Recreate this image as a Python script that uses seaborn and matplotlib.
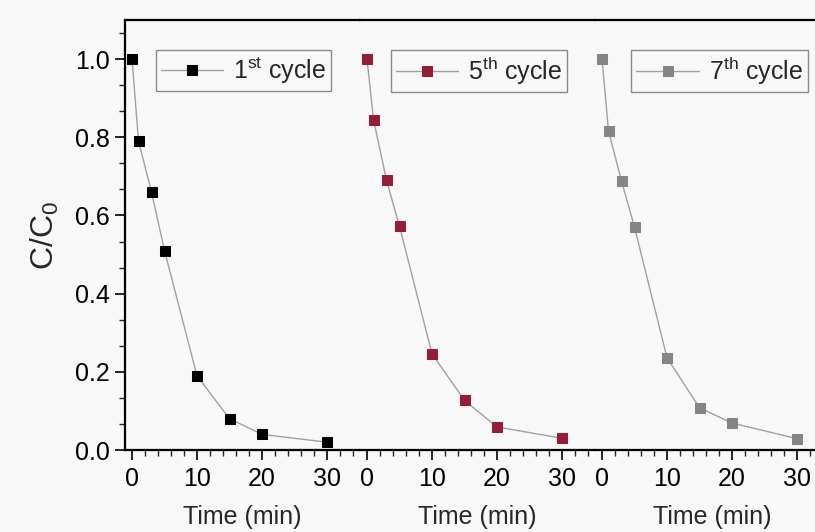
import seaborn as sns
import matplotlib
matplotlib.use("Agg")
import matplotlib.pyplot as plt
from matplotlib.ticker import AutoMinorLocator, MultipleLocator

# данные
time_min = [0, 1, 3, 5, 10, 15, 20, 30]
cycle_1 = [1.0, 0.79, 0.66, 0.51, 0.19, 0.08, 0.04, 0.02]
cycle_5 = [1.0, 0.845, 0.69, 0.572, 0.246, 0.127, 0.059, 0.03]
cycle_7 = [1.0, 0.816, 0.688, 0.57, 0.236, 0.108, 0.069, 0.029]
labels = ["1$^{\\mathregular{st}}$ cycle", "5$^{\\mathregular{th}}$ cycle",
          "7$^{\\mathregular{th}}$ cycle"]
colors = ["#000000", "#951d36", "#858585"]

sns.set_theme(style="ticks")
plt.rcParams['font.family'] = ['Liberation Sans', 'DejaVu Sans']
plt.rcParams['mathtext.fontset'] = 'custom'
plt.rcParams['mathtext.rm'] = 'Liberation Sans'
plt.rcParams['mathtext.it'] = 'Liberation Sans'
plt.rcParams['mathtext.bf'] = 'Liberation Sans:bold'

bg = "#f8f8f8"
fig = plt.figure(figsize=(8.15, 5.32), dpi=100, facecolor=bg)

W, H = 815, 532
left0, panel_w = 125, 235
top, bottom = 20, 450
fs = 18

series = [cycle_1, cycle_5, cycle_7]
leg_x = [0.13, 0.13, 0.155]
for i, vals in enumerate(series):
    ax = fig.add_axes([(left0 + i * panel_w) / W, 1 - bottom / H,
                       panel_w / W, (bottom - top) / H])
    ax.set_facecolor(bg)
    sns.lineplot(x=time_min, y=vals, ax=ax, color="#a0a0a0", lw=1,
                 marker="s", markersize=7.5, markerfacecolor=colors[i],
                 markeredgecolor=colors[i], label=labels[i])
    ax.set_xlim(-1.08, 35.08)
    ax.set_ylim(0, 1.1)
    ax.xaxis.set_minor_locator(MultipleLocator(2))
    ax.set_xticks([0, 10, 20, 30])
    ax.tick_params(axis='x', which='major', length=7, width=1.2, labelsize=fs,
                   pad=5, colors='black')
    ax.tick_params(axis='x', which='minor', length=4, width=1)
    for s in ['top', 'bottom', 'left', 'right']:
        ax.spines[s].set_linewidth(1.6)
        ax.spines[s].set_color('black')
    ax.spines['right'].set_visible(i == 2)
    if i == 0:
        ax.yaxis.set_major_locator(MultipleLocator(0.2))
        ax.yaxis.set_minor_locator(AutoMinorLocator(3))
        ax.tick_params(axis='y', which='major', length=7, width=1.2,
                       labelsize=fs, pad=4, colors='black')
        ax.tick_params(axis='y', which='minor', length=4, width=1)
        ax.set_ylabel("C/C$_{\\mathregular{0}}$", fontsize=23, labelpad=10)
    else:
        ax.spines['left'].set_visible(False)
        ax.set_yticks([])
        ax.set_ylabel("")
    ax.set_xlabel("Time (min)", fontsize=fs, labelpad=10)
    leg = ax.legend(loc='upper left', bbox_to_anchor=(leg_x[i], 0.93),
                    borderaxespad=0, fontsize=fs, handlelength=2.5,
                    fancybox=False, framealpha=1, facecolor=bg,
                    edgecolor='#8a8a8a', handletextpad=0.4,
                    borderpad=0.2)
    leg.get_frame().set_linewidth(1)

fig.savefig("out.png", dpi=100, facecolor=bg)
